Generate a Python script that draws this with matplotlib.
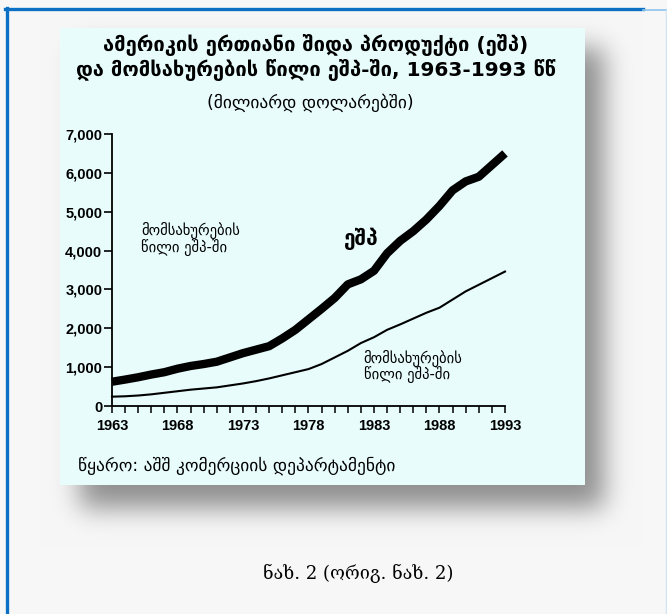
import numpy as np
import matplotlib
matplotlib.use('Agg')
import matplotlib.pyplot as plt
from matplotlib.patches import Rectangle

# Data (billions of dollars)
years = list(range(1963, 1994))
gdp = [625, 680, 740, 810, 870, 960, 1030, 1080, 1140, 1250,
       1360, 1450, 1540, 1740, 1960, 2230, 2500, 2780, 3130, 3260,
       3480, 3930, 4250, 4500, 4800, 5150, 5550, 5780, 5900, 6200,
       6500]
services = [240, 250, 270, 300, 340, 380, 420, 450, 480, 530,
            580, 640, 710, 790, 870, 950, 1080, 1250, 1420, 1620,
            1770, 1960, 2100, 2250, 2400, 2530, 2740, 2950, 3120, 3290,
            3460]
year_ticks = [1963, 1968, 1973, 1978, 1983, 1988, 1993]
value_ticks = [0, 1000, 2000, 3000, 4000, 5000, 6000, 7000]

title_lines = ['ამერიკის ერთიანი შიდა პროდუქტი (ეშპ)',
               'და მომსახურების წილი ეშპ-ში, 1963-1993 წწ']
subtitle = '(მილიარდ დოლარებში)'
services_label = 'მომსახურების\nწილი ეშპ-ში'
gdp_label = 'ეშპ'
source = 'წყარო: აშშ კომერციის დეპარტამენტი'
caption = 'ნახ. 2 (ორიგ. ნახ. 2)'

W, H = 667, 614
fig = plt.figure(figsize=(W / 100, H / 100), dpi=100)

# page background with a soft drop shadow behind the panel
bg = fig.add_axes([0, 0, 1, 1])
bg.set_xlim(0, W)
bg.set_ylim(H, 0)
bg.axis('off')

shade = np.zeros((H, W))
shade[48:508, 80:604] = 1.0
sigma = 13
k = np.arange(-3 * sigma, 3 * sigma + 1)
kern = np.exp(-k ** 2 / (2 * sigma ** 2))
kern /= kern.sum()
shade = np.apply_along_axis(lambda r: np.convolve(r, kern, mode='same'), 1, shade)
shade = np.apply_along_axis(lambda c: np.convolve(c, kern, mode='same'), 0, shade)
page = np.array([247, 247, 247]) / 255.0
img = page[None, None, :] * (1 - 0.42 * shade[:, :, None])
bg.imshow(img, extent=(0, W, H, 0), aspect='auto', interpolation='bilinear')

bg.add_patch(Rectangle((60, 28), 525, 457, facecolor='#e8fcfc', edgecolor='none'))
bg.plot([6.5, 6.5], [8, H], color='#0b6fc4', lw=2.4)
bg.plot([5, 643], [9, 9], color='#0b6fc4', lw=2.4)
bg.plot([643, W], [10, 10], color='#8fc3ea', lw=1.2)
bg.plot([665.5, 665.5], [10, H], color='#cfe3f3', lw=1)

# chart
ax = fig.add_axes([112 / W, 1 - 406 / H, 393 / W, 272 / H])
ax.patch.set_visible(False)
ax.plot(years, gdp, color='black', lw=6, solid_capstyle='butt', clip_on=False)
ax.plot(years, services, color='black', lw=1.5, clip_on=False)

ax.set_xlim(1963, 1993)
ax.set_ylim(0, 7000)
ax.spines['top'].set_visible(False)
ax.spines['right'].set_visible(False)
for s in ('left', 'bottom'):
    ax.spines[s].set_linewidth(1.3)
ax.set_xticks(year_ticks)
ax.set_xticks(years, minor=True)
ax.set_yticks(value_ticks)
ax.set_yticklabels([f'{v:,}' for v in value_ticks])
ax.tick_params(axis='x', which='both', direction='out', length=5, width=1.1, pad=4)
ax.tick_params(axis='y', direction='out', length=6, width=1.2, pad=1)
for lab in ax.get_xticklabels() + ax.get_yticklabels():
    lab.set_family(['Liberation Sans', 'DejaVu Sans'])
    lab.set_fontweight('bold')
    lab.set_fontsize(10.5)

geo = 'DejaVu Sans'
ax.text(1965.2, 4300, services_label, family=geo, fontsize=10.5,
        linespacing=0.95, va='center', ha='left')
ax.text(1980.7, 4300, gdp_label, family=geo, fontsize=15, fontweight='bold',
        va='center', ha='left')
ax.text(1982.2, 1020, services_label, family=geo, fontsize=10.5,
        linespacing=0.95, va='center', ha='left')

fig.text(316 / W, 1 - 45 / H, title_lines[0], family=geo, fontsize=14.5,
         fontweight='bold', ha='center', va='center')
fig.text(316 / W, 1 - 70 / H, title_lines[1], family=geo, fontsize=14.5,
         fontweight='bold', ha='center', va='center')
fig.text(310 / W, 1 - 103 / H, subtitle, family=geo, fontsize=12.5,
         ha='center', va='center')
fig.text(78 / W, 1 - 466 / H, source, family=geo, fontsize=12.5,
         ha='left', va='center')
fig.text(358 / W, 1 - 573 / H, caption, family='DejaVu Serif', fontsize=13,
         ha='center', va='center')

fig.savefig('out.png', dpi=100)
